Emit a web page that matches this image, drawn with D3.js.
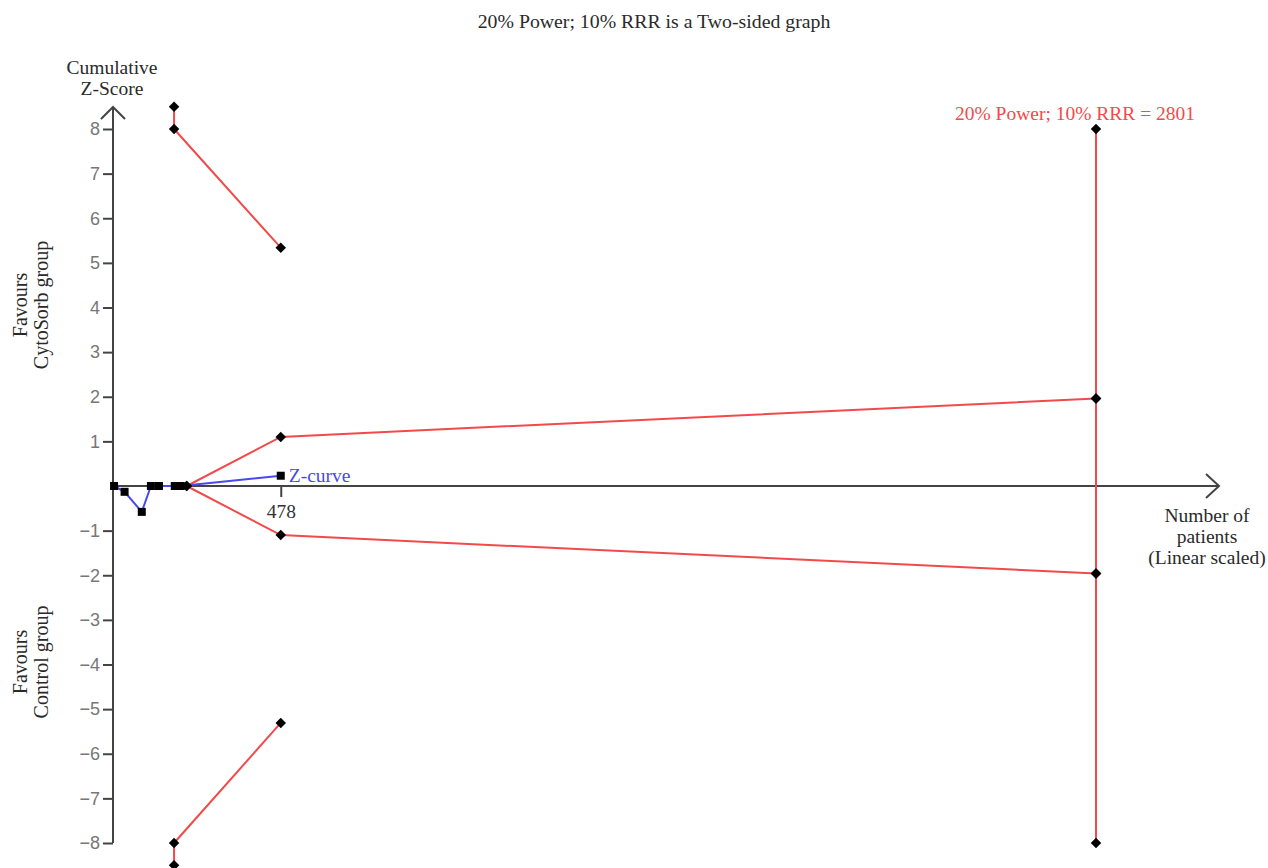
<!DOCTYPE html>
<html>
<head>
<meta charset="utf-8">
<script src="https://cdn.jsdelivr.net/npm/d3@7"></script>
<style>
  html, body { margin: 0; padding: 0; background: #fff; }
  svg { display: block; }
</style>
</head>
<body>
<svg id="chart" width="1268" height="868"></svg>
<script>
// Trial sequential analysis: cumulative Z-curve with monitoring boundaries
const zCurveN = [3, 33, 82, 108, 131, 176, 193, 478];
const zCurveZ = [0, -0.13, -0.58, 0, 0, 0, 0, 0.23];

// Alpha-spending (efficacy / harm) boundaries
const upperBoundN = [174, 174, 478];
const upperBoundZ = [8.5, 8, 5.34];
const lowerBoundN = [174, 174, 478];
const lowerBoundZ = [-8.5, -8, -5.31];

// Inner wedge boundaries
const innerUpperN = [210, 478, 2801];
const innerUpperZ = [0, 1.10, 1.96];
const innerLowerN = [210, 478, 2801];
const innerLowerZ = [0, -1.10, -1.96];

// Required information size
const risN = 2801;
const risZ = [8, 1.96, -1.96, -8];
const risLabel = "20% Power; 10% RRR = 2801";

const yTickValues = [-8, -7, -6, -5, -4, -3, -2, -1, 1, 2, 3, 4, 5, 6, 7, 8];
const xTickValues = [478];

const titleText = "20% Power; 10% RRR is a Two-sided graph";

const svg = d3.select("#chart");
const serif = "'Liberation Serif', 'Times New Roman', serif";
const sans = "'Liberation Sans', Arial, sans-serif";
const red = "#f24a4a";
const blue = "#4848ee";
const axisColor = "#444";
const textColor = "#2a2a2a";

const x = d3.scaleLinear().domain([0, 2801]).range([113, 1096]);
const y = d3.scaleLinear().domain([-8, 8]).range([843, 129]);

// Title
svg.append("text").attr("x", 654).attr("y", 28).attr("text-anchor", "middle")
  .attr("font-family", serif).attr("font-size", 19.8).attr("fill", textColor).text(titleText);

// Y axis with arrow
const x0 = x(0), y0 = y(0);
svg.append("line").attr("x1", x0).attr("x2", x0).attr("y1", y(-8)).attr("y2", 107)
  .attr("stroke", axisColor).attr("stroke-width", 2);
svg.append("path").attr("d", `M${x0 - 12},${119} L${x0},${107} L${x0 + 12},${119}`)
  .attr("fill", "none").attr("stroke", axisColor).attr("stroke-width", 2);

const yAxis = d3.axisLeft(y).tickValues(yTickValues).tickSize(10).tickPadding(3)
  .tickFormat(d => d < 0 ? "\u2212" + Math.abs(d) : String(d));
const gy = svg.append("g").attr("transform", `translate(${x0},0)`).call(yAxis);
gy.select(".domain").remove();
gy.selectAll(".tick line").attr("stroke", axisColor).attr("stroke-width", 2);
gy.selectAll(".tick text").attr("font-family", sans).attr("font-size", 18).attr("fill", "#777");

// X axis with arrow
svg.append("line").attr("x1", x0).attr("x2", 1219).attr("y1", y0).attr("y2", y0)
  .attr("stroke", axisColor).attr("stroke-width", 2);
svg.append("path").attr("d", `M1206,${y0 - 12} L1219,${y0} L1206,${y0 + 12}`)
  .attr("fill", "none").attr("stroke", axisColor).attr("stroke-width", 2);

const xAxis = d3.axisBottom(x).tickValues(xTickValues).tickSize(11).tickPadding(7)
  .tickFormat(d3.format("d"));
const gx = svg.append("g").attr("transform", `translate(0,${y0})`).call(xAxis);
gx.select(".domain").remove();
gx.selectAll(".tick line").attr("stroke", axisColor).attr("stroke-width", 2);
gx.selectAll(".tick text").attr("font-family", serif).attr("font-size", 19.5).attr("fill", "#333");

// Axis titles
const yTitle = svg.append("text").attr("text-anchor", "middle").attr("font-family", serif)
  .attr("font-size", 19.5).attr("fill", textColor);
yTitle.append("tspan").attr("x", 112).attr("y", 74).text("Cumulative");
yTitle.append("tspan").attr("x", 112).attr("y", 95).text("Z-Score");

const xTitle = svg.append("text").attr("text-anchor", "middle").attr("font-family", serif)
  .attr("font-size", 19.5).attr("fill", textColor);
["Number of", "patients", "(Linear scaled)"].forEach((t, i) => {
  xTitle.append("tspan").attr("x", 1207).attr("y", 522 + i * 21).text(t);
});

// Side labels
function sideLabel(cy, lines) {
  const t = svg.append("text").attr("transform", `translate(0,${cy}) rotate(-90)`)
    .attr("text-anchor", "middle").attr("font-family", serif).attr("font-size", 20).attr("fill", textColor);
  lines.forEach((s, i) => t.append("tspan").attr("x", 0).attr("y", 27 + i * 21).text(s));
}
sideLabel(305, ["Favours", "CytoSorb group"]);
sideLabel(662, ["Favours", "Control group"]);

// Boundary lines
const line = d3.line().x(d => x(d[0])).y(d => y(d[1]));
const boundaries = [
  [upperBoundN, upperBoundZ], [lowerBoundN, lowerBoundZ],
  [innerUpperN, innerUpperZ], [innerLowerN, innerLowerZ]
];
boundaries.forEach(([ns, zs]) => {
  svg.append("path").datum(ns.map((n, i) => [n, zs[i]])).attr("d", line)
    .attr("fill", "none").attr("stroke", red).attr("stroke-width", 2);
});
svg.append("line").attr("x1", x(risN)).attr("x2", x(risN))
  .attr("y1", y(d3.max(risZ))).attr("y2", y(d3.min(risZ)))
  .attr("stroke", red).attr("stroke-width", 2);

// Z-curve
const zPts = zCurveN.map((n, i) => [n, zCurveZ[i]]);
svg.append("path").datum(zPts).attr("d", line)
  .attr("fill", "none").attr("stroke", blue).attr("stroke-width", 2);
svg.selectAll(".zpt").data(zPts).enter().append("rect")
  .attr("x", d => x(d[0]) - 4).attr("y", d => y(d[1]) - 4)
  .attr("width", 8).attr("height", 8).attr("fill", "#000");

// Boundary diamonds
const diamond = d3.symbol().type(d3.symbolDiamond2).size(70);
const diamondPts = [];
boundaries.forEach(([ns, zs]) => ns.forEach((n, i) => diamondPts.push([n, zs[i]])));
risZ.forEach(z => diamondPts.push([risN, z]));
svg.selectAll(".dpt").data(diamondPts).enter().append("path")
  .attr("d", diamond).attr("transform", d => `translate(${x(d[0])},${y(d[1])})`)
  .attr("fill", "#000");

// Labels
const last = zPts[zPts.length - 1];
svg.append("text").attr("x", x(last[0]) + 8).attr("y", y(last[1]) + 6)
  .attr("font-family", serif).attr("font-size", 19.5).attr("fill", blue).text("Z-curve");
svg.append("text").attr("x", x(risN) - 21).attr("y", y(8) - 9).attr("text-anchor", "middle")
  .attr("font-family", serif).attr("font-size", 19.5).attr("fill", red).text(risLabel);
</script>
</body>
</html>
